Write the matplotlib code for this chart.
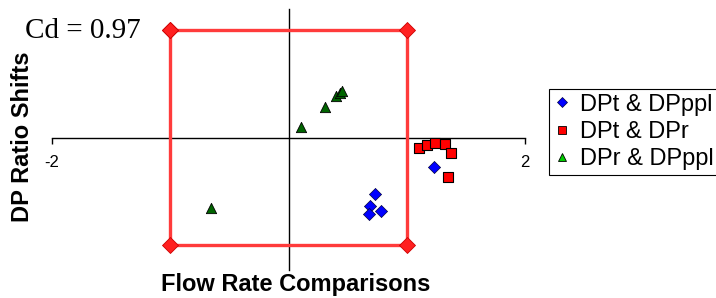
import matplotlib
matplotlib.use("Agg")
import matplotlib.pyplot as plt
from matplotlib.lines import Line2D

# ---- data ----
dpt_dpppl_x = [0.73, 0.69, 0.68, 0.78, 1.23]
dpt_dpppl_y = [-0.52, -0.63, -0.71, -0.68, -0.27]

dpt_dpr_x = [1.10, 1.17, 1.24, 1.32, 1.37, 1.35]
dpt_dpr_y = [-0.09, -0.063, -0.044, -0.06, -0.143, -0.36]

dpr_dpppl_x = [0.106, 0.31, 0.40, 0.435, 0.455, -0.655]
dpr_dpppl_y = [0.10, 0.29, 0.39, 0.42, 0.44, -0.657]

box_x = [-1, 1, 1, -1, -1]
box_y = [1, 1, -1, -1, 1]

series_labels = ["DPt & DPppl", "DPt & DPr", "DPr & DPppl"]
xtick_vals = [-2, 2]
xtick_labels = ["-2", "2"]
annotation = "Cd = 0.97"
xlabel = "Flow Rate Comparisons"
ylabel = "DP Ratio Shifts"

W, H = 716, 298
fig = plt.figure(figsize=(W / 100, H / 100), dpi=100)
ax = fig.add_axes([52 / W, 1 - 270 / H, (525 - 52) / W, (270 - 9) / H])
ax.set_xlim(-2, 2)
ax.set_ylim(-1.23, 1.2)
ax.patch.set_visible(False)

for s in ["top", "right"]:
    ax.spines[s].set_visible(False)
ax.spines["left"].set_position(("data", 0))
ax.spines["bottom"].set_position(("data", 0))
ax.spines["left"].set_linewidth(1.0)
ax.spines["bottom"].set_linewidth(1.0)
ax.spines["left"].set_zorder(1)
ax.spines["bottom"].set_zorder(1)

ax.set_yticks([])
ax.set_xticks(xtick_vals)
ax.set_xticklabels(xtick_labels, fontfamily="Liberation Sans", fontsize=12)
ax.tick_params(axis="x", direction="out", length=4, width=1, pad=8)

# red box
ax.plot(box_x, box_y, color="#ff3b3b", lw=2.4, marker="D", markersize=8,
        markerfacecolor="#ff2020", markeredgecolor="#cc0000", markeredgewidth=0.6,
        zorder=3, solid_joinstyle="miter")

ax.scatter(dpt_dpppl_x, dpt_dpppl_y, marker="D", s=38, c="#0000ff",
           edgecolors="#000040", linewidths=0.5, zorder=5)
ax.scatter(dpt_dpr_x, dpt_dpr_y, marker="s", s=48, c="#ff0000",
           edgecolors="#000000", linewidths=0.8, zorder=5)
ax.scatter(dpr_dpppl_x, dpr_dpppl_y, marker="^", s=55, c="#006400",
           edgecolors="#000000", linewidths=0.6, zorder=5)

handles = [
    Line2D([], [], ls="none", marker="D", markersize=5, markerfacecolor="#0000ff",
           markeredgecolor="#000040", markeredgewidth=0.5),
    Line2D([], [], ls="none", marker="s", markersize=6, markerfacecolor="#ff0000",
           markeredgecolor="#000000", markeredgewidth=0.6),
    Line2D([], [], ls="none", marker="^", markersize=6, markerfacecolor="#00cc00",
           markeredgecolor="#000000", markeredgewidth=0.6),
]
leg = fig.legend(handles, series_labels, loc="upper left",
                 bbox_to_anchor=(549 / W, 1 - 89 / H),
                 prop={"family": "Liberation Sans", "size": 17},
                 frameon=True, fancybox=False, framealpha=1, edgecolor="black",
                 borderpad=0.2, labelspacing=0.22, handlelength=0.7,
                 handletextpad=0.4, borderaxespad=0)
leg.get_frame().set_linewidth(0.8)

fig.text(25 / W, 1 - 38 / H, annotation, family="Liberation Serif", fontsize=21,
         ha="left", va="baseline")
fig.text(296 / W, 1 - 285 / H, xlabel, family="Liberation Sans", fontsize=17,
         fontweight="bold", ha="center", va="center")
fig.text(23 / W, 1 - 137 / H, ylabel, family="Liberation Sans", fontsize=17,
         fontweight="bold", ha="center", va="center", rotation=90)

fig.savefig("out.png", dpi=100)
